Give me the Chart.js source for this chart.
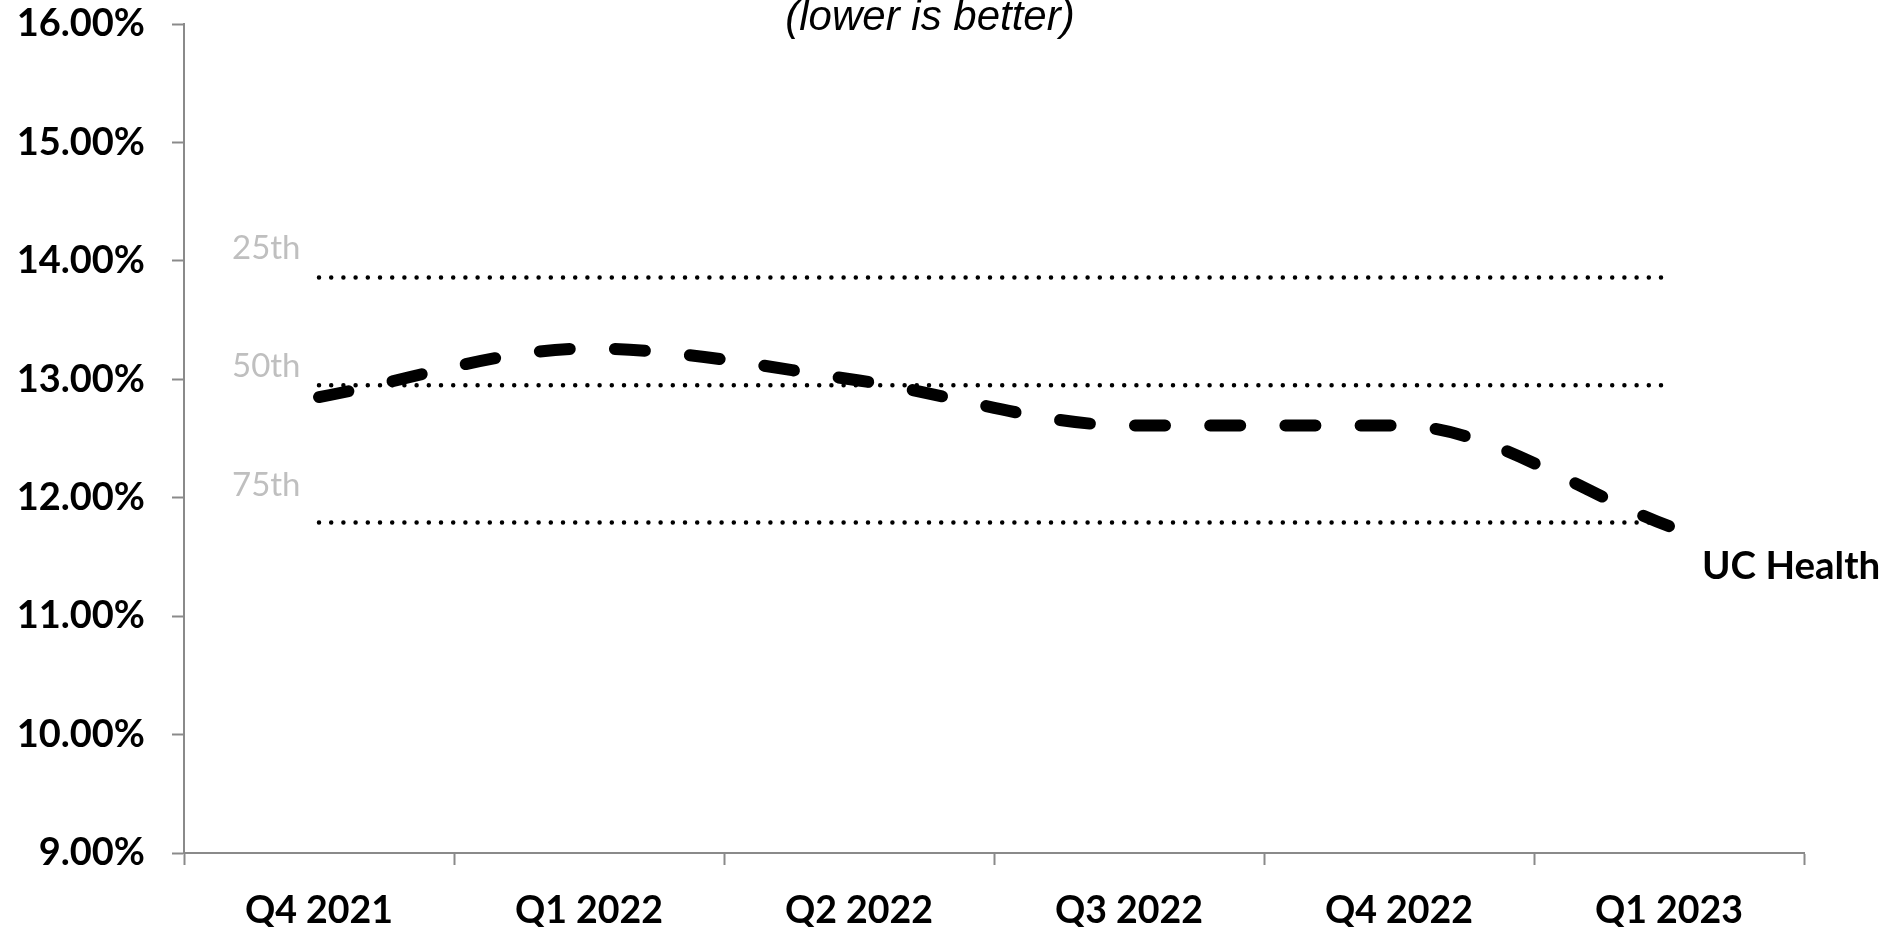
<!DOCTYPE html>
<html>
<head>
<meta charset="utf-8">
<script src="https://cdn.jsdelivr.net/npm/chart.js@4"></script>
<style>
  html, body { margin: 0; padding: 0; background: #ffffff; }
  #wrap { width: 1898px; height: 927px; position: relative; }
</style>
</head>
<body>
<div id="wrap"><canvas id="chart" width="1898" height="927"></canvas></div>
<script>
// Quarterly values (percent)
const quarters = ['Q4 2021', 'Q1 2022', 'Q2 2022', 'Q3 2022', 'Q4 2022', 'Q1 2023'];
const ucHealth = [12.85, 13.26, 12.99, 12.61, 12.61, 11.76];
const pct25 = [13.86, 13.86, 13.86, 13.86, 13.86, 13.86];
const pct50 = [12.95, 12.95, 12.95, 12.95, 12.95, 12.95];
const pct75 = [11.79, 11.79, 11.79, 11.79, 11.79, 11.79];
const yTickValues = [9, 10, 11, 12, 13, 14, 15, 16];
const percentileNames = ['25th', '50th', '75th'];
const seriesName = 'UC Health';
const subtitle = '(lower is better)';

const AXIS_GREY = '#8a8a8a';
const LABEL_FONT = 'Lato';

const dottedStyle = {
  borderColor: '#000000',
  borderWidth: 4.5,
  borderDash: [0, 12.2],
  borderCapStyle: 'round',
  pointRadius: 0,
  pointHoverRadius: 0,
  fill: false,
  tension: 0
};

// Percentile captions sit on the 14 / 13 / 12 tick baselines, left of the reference lines
const annotatePlugin = {
  id: 'annotate',
  afterDraw(chart) {
    const ctx = chart.ctx;
    const x = chart.scales.x;
    const y = chart.scales.y;
    ctx.save();

    // subtitle
    ctx.fillStyle = '#000000';
    ctx.font = 'italic 42px "Liberation Sans", Arial, sans-serif';
    ctx.textAlign = 'center';
    ctx.textBaseline = 'alphabetic';
    ctx.fillText(subtitle, 930, 30);

    // percentile captions
    ctx.fillStyle = '#bfbfbf';
    ctx.font = '33px ' + LABEL_FONT + ', sans-serif';
    ctx.textAlign = 'left';
    const anchors = [14, 13, 12];
    percentileNames.forEach((name, i) => {
      ctx.fillText(name, x.left + 48, y.getPixelForValue(anchors[i]) - 2);
    });

    // series name beside its last point
    const meta = chart.getDatasetMeta(0);
    const last = meta.data[meta.data.length - 1];
    ctx.fillStyle = '#000000';
    ctx.font = 'bold 38.5px ' + LABEL_FONT + ', sans-serif';
    ctx.fillText(seriesName, last.x + 33, last.y + 53);
    ctx.restore();
  }
};

new Chart(document.getElementById('chart'), {
  type: 'line',
  data: {
    labels: quarters,
    datasets: [
      {
        label: seriesName,
        data: ucHealth,
        borderColor: '#000000',
        borderWidth: 12,
        borderDash: [30, 45.2],
        borderCapStyle: 'round',
        cubicInterpolationMode: 'monotone',
        pointRadius: 0,
        pointHoverRadius: 0,
        fill: false
      },
      Object.assign({ label: '25th', data: pct25 }, dottedStyle),
      Object.assign({ label: '50th', data: pct50 }, dottedStyle),
      Object.assign({ label: '75th', data: pct75 }, dottedStyle)
    ]
  },
  options: {
    responsive: false,
    animation: false,
    devicePixelRatio: 1,
    layout: { padding: { left: 0, top: 0, right: 94, bottom: 0 } },
    plugins: {
      legend: { display: false },
      tooltip: { enabled: false },
      title: { display: false }
    },
    scales: {
      x: {
        type: 'category',
        offset: true,
        grid: {
          offset: true,
          drawOnChartArea: false,
          drawTicks: true,
          tickLength: 12,
          tickWidth: 2,
          tickColor: AXIS_GREY
        },
        border: { display: true, color: AXIS_GREY, width: 2 },
        ticks: {
          color: '#000000',
          padding: 23,
          maxRotation: 0,
          autoSkip: false,
          font: { family: LABEL_FONT, size: 37.5, weight: 'bold' }
        },
        afterFit(scale) {
          scale.height = 74;
          scale.paddingLeft = 0;
          scale.paddingRight = 0;
        }
      },
      y: {
        min: 9,
        max: 16,
        afterBuildTicks(scale) { scale.ticks = yTickValues.map(v => ({ value: v })); },
        grid: {
          drawOnChartArea: false,
          drawTicks: true,
          tickLength: 12,
          tickWidth: 2,
          tickColor: AXIS_GREY
        },
        border: { display: true, color: AXIS_GREY, width: 2 },
        ticks: {
          color: '#000000',
          padding: 27,
          font: { family: LABEL_FONT, size: 38, weight: 'bold' },
          callback: (v) => Number(v).toFixed(2) + '%'
        },
        afterFit(scale) {
          scale.width = 184;
          scale.paddingTop = 24;
          scale.paddingBottom = 0;
        }
      }
    }
  },
  plugins: [annotatePlugin]
});
</script>
</body>
</html>
